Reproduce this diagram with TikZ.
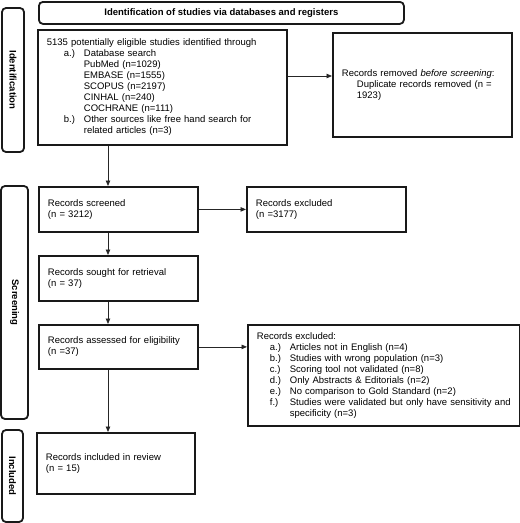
\documentclass[tikz,border=0pt]{standalone}
\usepackage{fontspec}
\setmainfont{Liberation Sans}
\usetikzlibrary{arrows.meta,calc}
\newcommand{\fsz}{\fontsize{9.5}{11}\selectfont}
\tikzset{
  box/.style={draw=black!90, line width=1.8pt, inner xsep=9pt, inner ysep=0pt,
    align=left, anchor=north west, font=\fsz},
  lab/.style={draw=black!90, line width=1.8pt, rounded corners=4pt, inner sep=0pt,
    font=\fsz\bfseries, rotate=-90, anchor=center},
  ttl/.style={draw=black!90, line width=1.8pt, rounded corners=4pt, inner sep=0pt,
    font=\fsz\bfseries, anchor=north west},
  arr/.style={-{Triangle[length=5.5pt,width=4.5pt]}, line width=0.8pt, draw=black!85},
}
\begin{document}
\begin{tikzpicture}[x=1pt,y=1pt]
\useasboundingbox (0,0) rectangle (520,-523);
% title and side labels
\node[ttl, minimum width=365pt, minimum height=22pt] (title) at (38,-1)
  {Identification of studies via databases and registers};
\node[lab, minimum width=144pt, minimum height=22pt] (lab1) at (13,-80) {Identification};
\node[lab, minimum width=233pt, minimum height=27pt] (lab2) at (14.5,-302.5) {Screening};
\node[lab, minimum width=92pt, minimum height=21pt] (lab3) at (12.5,-476) {Included};
% boxes
\node[box, text width=231pt, minimum height=115pt] (ident) at (37,-29)
  {5135 potentially eligible studies identified through\\
   \hspace*{17pt}\makebox[20pt][l]{a.)}Database search\\
   \hspace*{37pt}PubMed (n=1029)\\
   \hspace*{37pt}EMBASE (n=1555)\\
   \hspace*{37pt}SCOPUS (n=2197)\\
   \hspace*{37pt}CINHAL (n=240)\\
   \hspace*{37pt}COCHRANE (n=111)\\
   \hspace*{17pt}\makebox[20pt][l]{b.)}Other sources like free hand search for\\
   \hspace*{37pt}related articles (n=3)};
\node[box, text width=161pt, minimum height=104pt] (removed) at (332,-32)
  {Records removed \textit{before screening}:\\
   \hspace*{15pt}Duplicate records removed (n =\\
   \hspace*{15pt}1923)};
\node[box, text width=141pt, minimum height=45pt] (screened) at (38,-186)
  {Records screened\\(n = 3212)};
\node[box, text width=141pt, minimum height=45pt] (excl1) at (246,-186)
  {Records excluded\\(n =3177)};
\node[box, text width=141pt, minimum height=45pt] (sought) at (38,-255)
  {Records sought for retrieval\\(n = 37)};
\node[box, text width=141pt, minimum height=44pt] (assessed) at (38,-324)
  {Records assessed for eligibility\\(n =37)};
\node[box, text width=254pt, minimum height=101pt] (excl2) at (247,-324)
  {Records excluded:\\
   \hspace*{13pt}\makebox[20pt][l]{a.)}Articles not in English (n=4)\\
   \hspace*{13pt}\makebox[20pt][l]{b.)}Studies with wrong population (n=3)\\
   \hspace*{13pt}\makebox[20pt][l]{c.)}Scoring tool not validated (n=8)\\
   \hspace*{13pt}\makebox[20pt][l]{d.)}Only Abstracts \& Editorials (n=2)\\
   \hspace*{13pt}\makebox[20pt][l]{e.)}No comparison to Gold Standard (n=2)\\
   \hspace*{13pt}\makebox[20pt][l]{f.)}Studies were validated but only have sensitivity and\\
   \hspace*{33pt}specificity (n=3)};
\node[box, text width=140pt, minimum height=61pt] (included) at (36,-432)
  {Records included in review\\(n = 15)};
% connector helpers
\coordinate (colx) at (108,0);
\coordinate (row1) at (0,-76);
% connectors
\draw[arr] (ident.south -| colx) -- (screened.north -| colx);
\draw[arr] (screened.south -| colx) -- (sought.north -| colx);
\draw[arr] (sought.south -| colx) -- (assessed.north -| colx);
\draw[arr] (assessed.south -| colx) -- (included.north -| colx);
\draw[arr] (ident.east |- row1) -- (removed.west |- row1);
\draw[arr] (screened.east) -- (excl1.west |- screened.east);
\draw[arr] (assessed.east) -- (excl2.west |- assessed.east);
\end{tikzpicture}
\end{document}
